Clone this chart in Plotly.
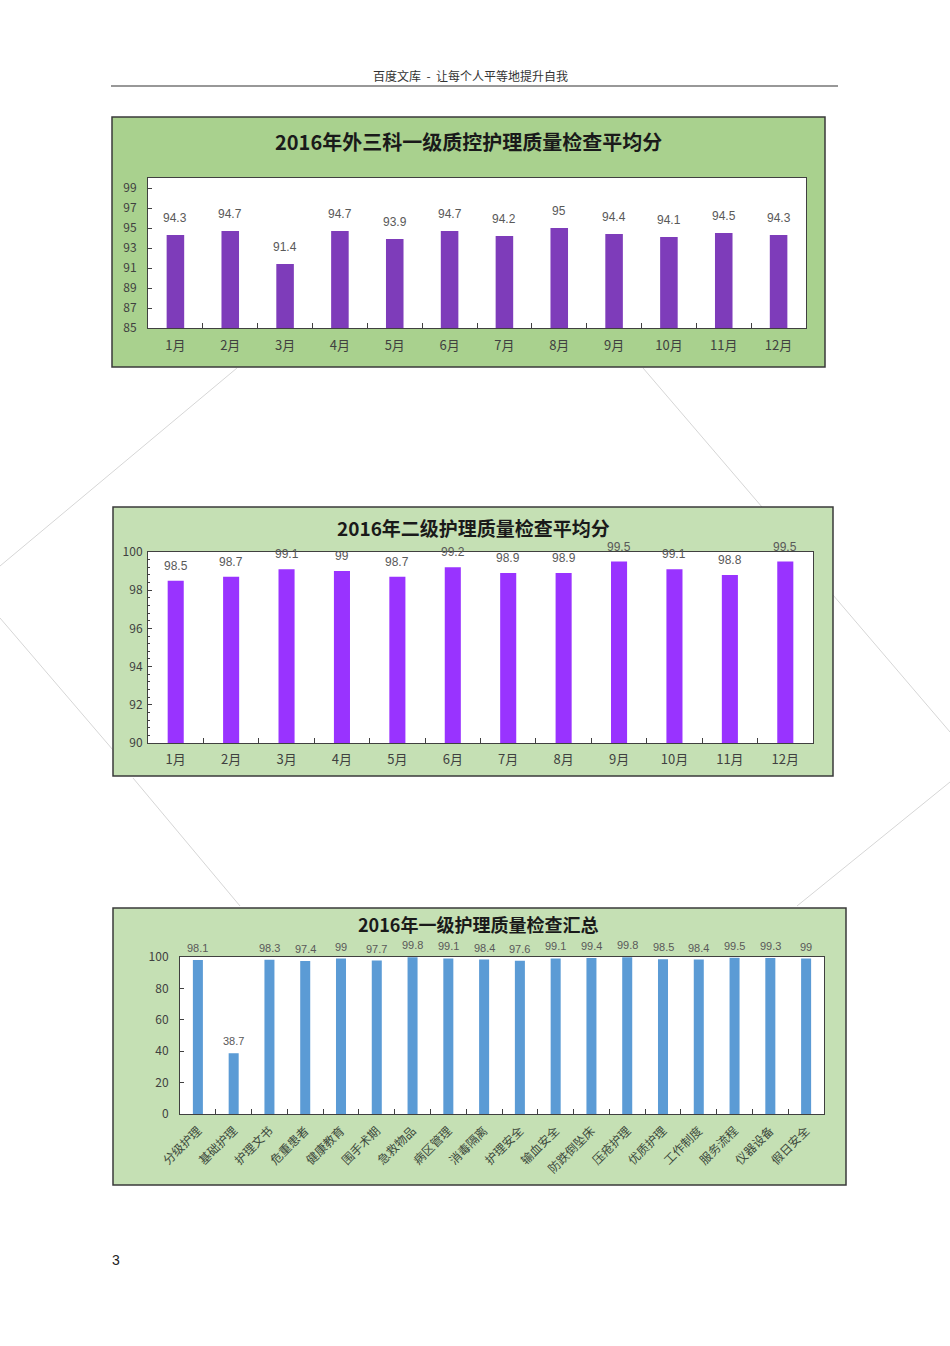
import plotly.graph_objects as go

W, H = 950, 1346

months = ['1月', '2月', '3月', '4月', '5月', '6月', '7月', '8月', '9月', '10月', '11月', '12月']
vals1 = [94.3, 94.7, 91.4, 94.7, 93.9, 94.7, 94.2, 95, 94.4, 94.1, 94.5, 94.3]
vals2 = [98.5, 98.7, 99.1, 99, 98.7, 99.2, 98.9, 98.9, 99.5, 99.1, 98.8, 99.5]
cats3 = ['分级护理', '基础护理', '护理文书', '危重患者', '健康教育', '围手术期', '急救物品',
         '病区管理', '消毒隔离', '护理安全', '输血安全', '防跌倒坠床', '压疮护理', '优质护理',
         '工作制度', '服务流程', '仪器设备', '假日安全']
vals3 = [98.1, 38.7, 98.3, 97.4, 99, 97.7, 99.8, 99.1, 98.4, 97.6, 99.1, 99.4, 99.8, 98.5,
         98.4, 99.5, 99.3, 99]

title1 = '2016年外三科一级质控护理质量检查平均分'
title2 = '2016年二级护理质量检查平均分'
title3 = '2016年一级护理质量检查汇总'
header = '百度文库  -  让每个人平等地提升自我'

FONT = 'Noto Sans CJK SC'


def px(x):
    return x / W


def py(y):
    return 1 - y / H


fig = go.Figure()

fig.add_trace(go.Bar(x=months, y=vals1, marker=dict(color='#7e3cba', line=dict(width=0)),
                     width=0.32, xaxis='x', yaxis='y', hoverinfo='x+y'))
fig.add_trace(go.Bar(x=months, y=vals2, marker=dict(color='#9933ff', line=dict(width=0)),
                     width=0.29, xaxis='x2', yaxis='y2', hoverinfo='x+y'))
fig.add_trace(go.Bar(x=cats3, y=vals3, marker=dict(color='#5b9bd5', line=dict(width=0)),
                     width=0.28, xaxis='x3', yaxis='y3', hoverinfo='x+y'))

shapes = []
# decorative faint background lines
for (x0, y0, x1, y1) in [(237, 368, 0, 566), (643, 368, 762, 507), (833, 595, 950, 732),
                         (0, 618, 113, 750), (133, 778, 240, 906), (950, 782, 797, 906)]:
    shapes.append(dict(type='line', xref='paper', yref='paper', x0=px(x0), y0=py(y0),
                       x1=px(x1), y1=py(y1), line=dict(color='#d6d6d6', width=1), layer='below'))
# header rule
shapes.append(dict(type='line', xref='paper', yref='paper', x0=px(111), x1=px(838),
                   y0=py(86), y1=py(86), line=dict(color='#333333', width=1.2), layer='below'))
# panels
for (x0, y0, x1, y1, fill) in [(112, 117, 825, 367, '#a9d18e'), (113, 507, 833, 776, '#c5e0b4'),
                               (113, 908, 846, 1185, '#c5e0b4')]:
    shapes.append(dict(type='rect', xref='paper', yref='paper', x0=px(x0), y0=py(y1),
                       x1=px(x1), y1=py(y0), fillcolor=fill,
                       line=dict(color='#3a3a3a', width=1.5), layer='below'))
# white plot areas
for ax in ['', '2', '3']:
    shapes.append(dict(type='rect', xref='x%s domain' % ax, yref='y%s domain' % ax,
                       x0=0, x1=1, y0=0, y1=1, fillcolor='white',
                       line=dict(width=0), layer='below'))

annotations = []
annotations.append(dict(text=header, xref='paper', yref='paper', x=px(470), y=py(75),
                        xanchor='center', yanchor='middle', showarrow=False,
                        font=dict(size=12, color='#333333', family=FONT)))
annotations.append(dict(text='3', xref='paper', yref='paper', x=px(116), y=py(1260),
                        xanchor='center', yanchor='middle', showarrow=False,
                        font=dict(size=14, color='#222222', family='Liberation Sans')))
for t, xc, yc, s in [(title1, 468, 142, 20), (title2, 473, 528, 19), (title3, 478, 924, 18)]:
    annotations.append(dict(text='<b>%s</b>' % t, xref='paper', yref='paper', x=px(xc), y=py(yc),
                            xanchor='center', yanchor='middle', showarrow=False,
                            font=dict(size=s, color='#1a1a1a', family=FONT)))
# data labels
for cats, vals, ax, shift, fs in [(months, vals1, '', 17, 12), (months, vals2, '2', 15, 12),
                                  (cats3, vals3, '3', 12, 11)]:
    for c, v in zip(cats, vals):
        annotations.append(dict(text=str(v), x=c, y=v, xref='x%s' % ax, yref='y%s' % ax,
                                xanchor='center', yanchor='middle',
                                showarrow=False, yshift=shift,
                                font=dict(size=fs, color='#595959', family='Liberation Sans')))

tickfont = dict(size=12, color='#404040', family=FONT)
xtickfont = dict(size=13, color='#404040', family=FONT)

common_x = dict(type='category', showline=True, linecolor='#404040', linewidth=1, mirror=True,
                ticks='inside', tickson='boundaries', ticklen=5, tickcolor='#404040',
                showgrid=False, zeroline=False, fixedrange=True, automargin=False)
common_y = dict(showline=True, linecolor='#404040', linewidth=1, mirror=True,
                ticks='inside', ticklen=4, tickcolor='#404040', showgrid=False,
                zeroline=False, fixedrange=True, automargin=False)

fig.update_layout(
    width=W, height=H, margin=dict(l=0, r=0, t=0, b=0, pad=0, autoexpand=False),
    paper_bgcolor='white', plot_bgcolor='rgba(0,0,0,0)',
    showlegend=False, bargap=0.68,
    shapes=shapes, annotations=annotations,
    xaxis=dict(common_x, domain=[px(148), px(806)], anchor='y', tickfont=xtickfont,
               ticklabelstandoff=5),
    yaxis=dict(common_y, domain=[py(328), py(178)], anchor='x', range=[85, 100],
               tick0=85, dtick=2, tickfont=tickfont, ticklabelstandoff=8),
    xaxis2=dict(common_x, domain=[px(148), px(813)], anchor='y2', tickfont=xtickfont,
                ticklabelstandoff=4),
    yaxis2=dict(common_y, domain=[py(743), py(552)], anchor='x2', range=[90, 100],
                tick0=90, dtick=2, tickfont=tickfont, ticklabelstandoff=2,
                minor=dict(ticks='inside', ticklen=2, dtick=0.4, tickcolor='#404040')),
    xaxis3=dict(common_x, domain=[px(180), px(824)], anchor='y3', tickangle=-45,
                tickfont=dict(size=12, color='#3d4a3d', family=FONT), ticklabelstandoff=4),
    yaxis3=dict(common_y, domain=[py(1114), py(957)], anchor='x3', range=[0, 100],
                tick0=0, dtick=20, tickfont=dict(size=12, color='#404040', family=FONT),
                ticklabelstandoff=8),
)

fig.write_html('out.html')
